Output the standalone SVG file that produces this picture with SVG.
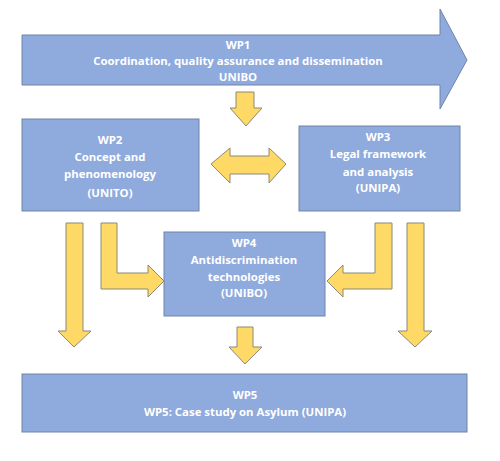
<svg xmlns="http://www.w3.org/2000/svg" width="500" height="461" viewBox="0 0 500 461">
<style>
.box{fill:#8FAADC;stroke:#6F84A8;stroke-width:1}
.arr{fill:#FFD966;stroke:#8C8A78;stroke-width:1;stroke-linejoin:miter}
text{font-family:"Open Sans","Liberation Sans",sans-serif;font-weight:bold;font-size:11.4px;fill:#FFFFFF;text-anchor:middle}
</style>
<rect width="500" height="461" fill="#FFFFFF"/>
<g id="wp1">
<polygon class="box" points="22,35 440,35 440,9 467,60 440,109 440,85 22,85"/>
<text x="238" y="49">WP1</text>
<text x="238" y="65">Coordination, quality assurance and dissemination</text>
<text x="238" y="81">UNIBO</text>
</g>
<g id="wp2">
<rect class="box" x="22" y="119" width="177" height="92"/>
<text x="110" y="144">WP2</text>
<text x="110" y="161">Concept and</text>
<text x="110" y="178">phenomenology</text>
<text x="110" y="197">(UNITO)</text>
</g>
<g id="wp3">
<rect class="box" x="299" y="126" width="161" height="85"/>
<text x="378" y="141">WP3</text>
<text x="378" y="158">Legal framework</text>
<text x="378" y="176">and analysis</text>
<text x="378" y="192">(UNIPA)</text>
</g>
<g id="wp4">
<rect class="box" x="164" y="232" width="161" height="84"/>
<text x="244" y="247">WP4</text>
<text x="244" y="264">Antidiscrimination</text>
<text x="244" y="281">technologies</text>
<text x="244" y="297">(UNIBO)</text>
</g>
<g id="wp5">
<rect class="box" x="22" y="374" width="445" height="58"/>
<text x="245" y="399">WP5</text>
<text x="245" y="416">WP5: Case study on Asylum (UNIPA)</text>
</g>
<g id="connectors">
<polygon class="arr" points="236,92 254,92 254,108 262,108 246,126 230,108 236,108"/>
<polygon class="arr" points="211,164 230,148 230,156 269,156 269,148 286,164 269,183 269,174 230,174 230,183"/>
<polygon class="arr" points="66,223 83,223 83,331 91,331 74,347 58,331 66,331"/>
<polygon class="arr" points="101,223 117,223 117,273 148,273 148,265 164,281 148,297 148,289 101,289"/>
<polygon class="arr" points="392,223 375,223 375,273 343,273 343,265 327,281 343,297 343,289 392,289"/>
<polygon class="arr" points="407,223 424,223 424,331 432,331 415,347 398,331 407,331"/>
<polygon class="arr" points="237,327 253,327 253,347 262,347 245,364 229,347 237,347"/>
</g>
</svg>
